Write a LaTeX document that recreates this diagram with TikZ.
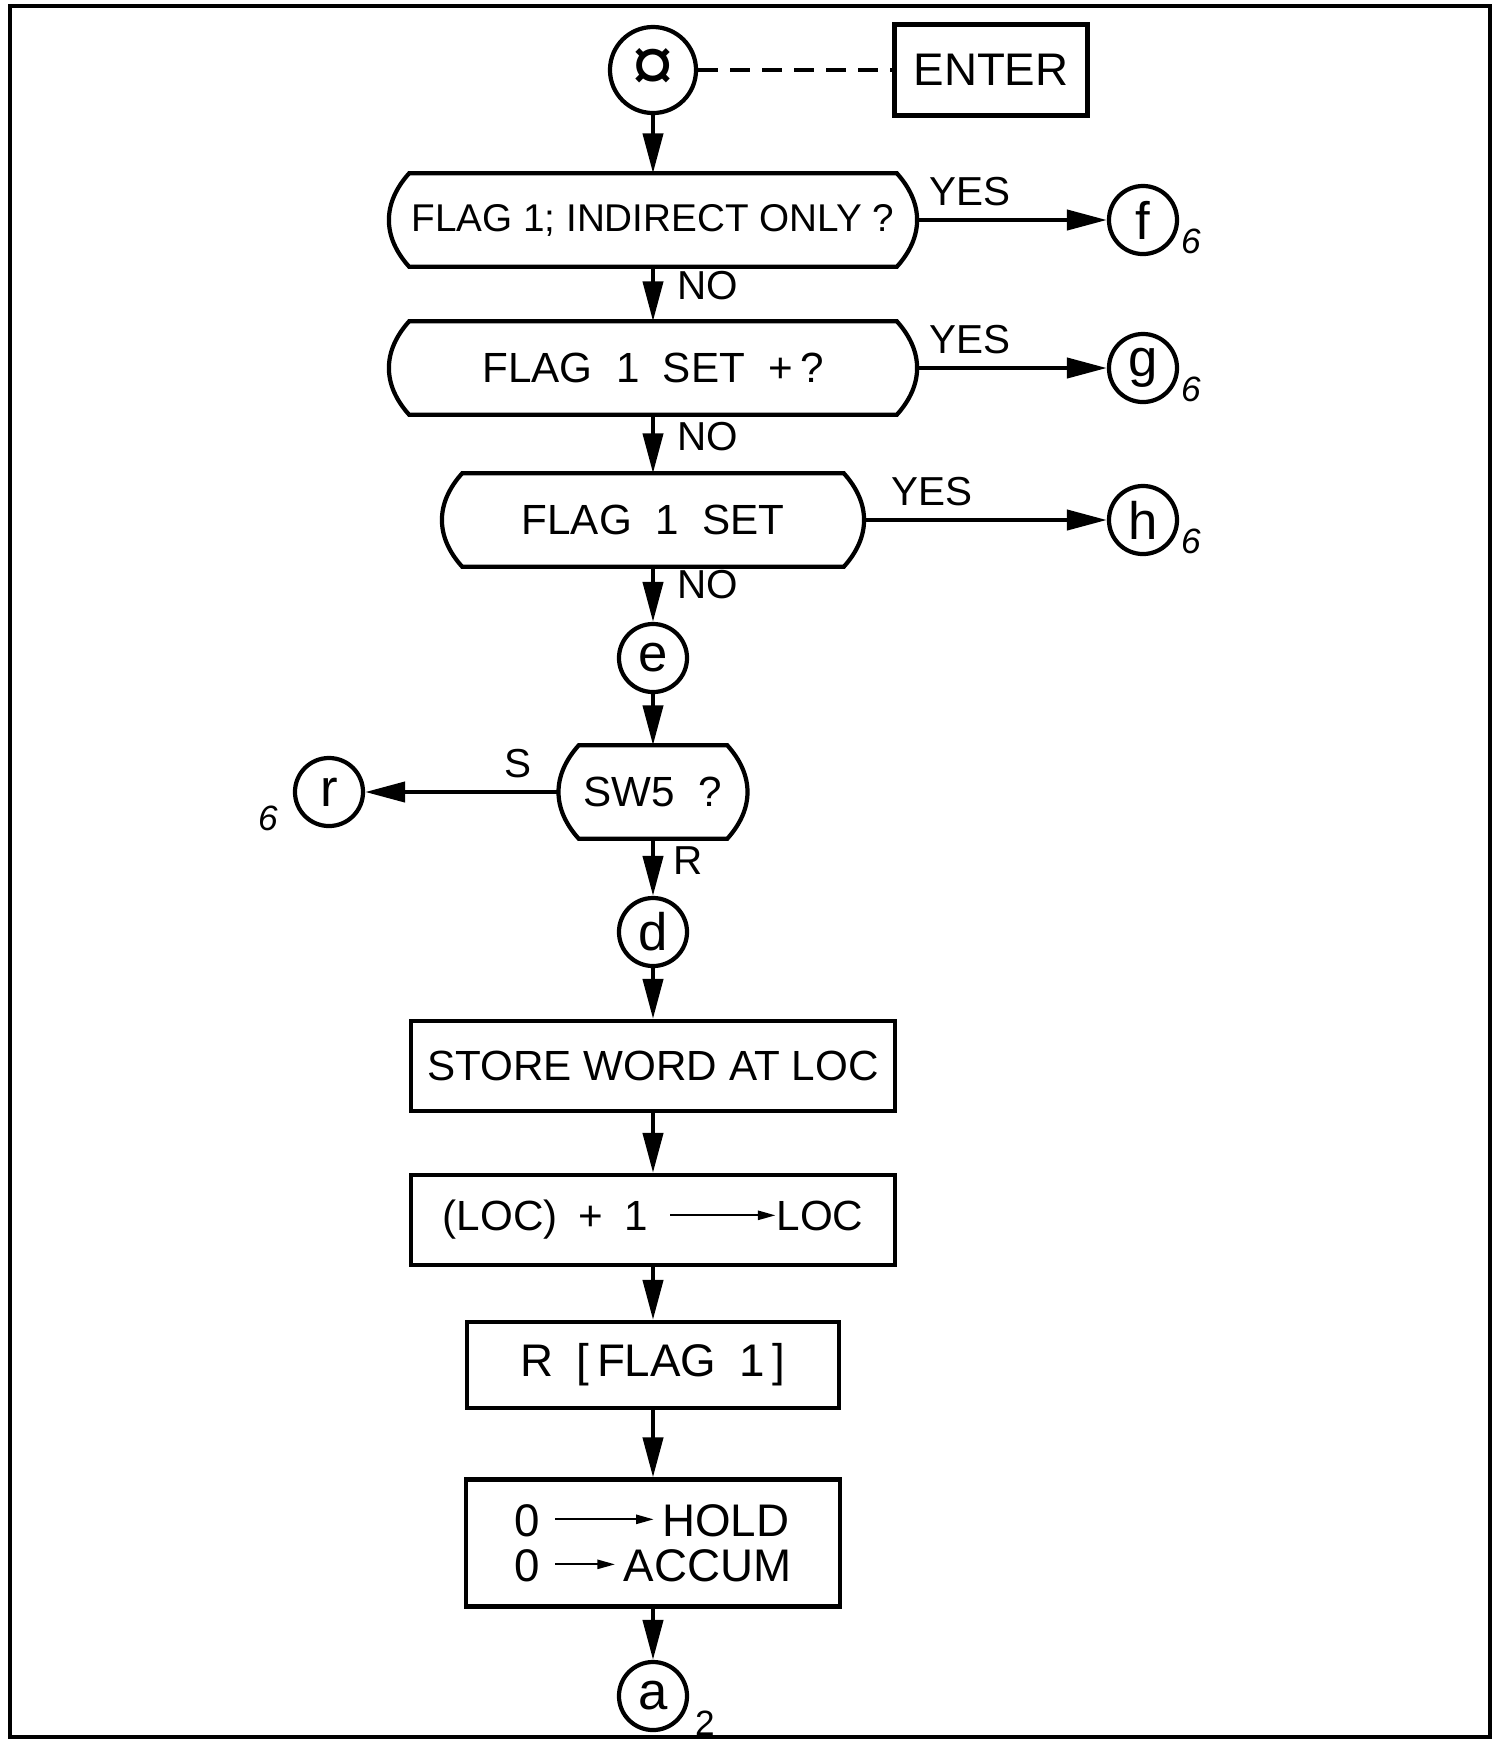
\documentclass[tikz,border=0pt]{standalone}
\usepackage{fontspec}
\setmainfont{Liberation Sans}
\usetikzlibrary{arrows.meta}

\tikzset{
  line/.style={line width=1.2pt},
  arr/.style={line width=1.2pt, -{Triangle[length=0.4cm, width=0.2cm]}},
  box/.style={draw, line width=1.2pt, rectangle, inner sep=0pt, font=\fontsize{12}{12.5}\selectfont},
  decision/.style={rectangle, inner sep=0pt, minimum height=0.92cm, font=\fontsize{12}{14}\selectfont},
  conn/.style={draw, circle, line width=1.2pt, minimum size=0.68cm, inner sep=0pt, font=\fontsize{15}{15}\selectfont},
  lbl/.style={font=\fontsize{11.5}{12}\selectfont},
  sub/.style={font=\fontsize{10}{10}\selectfont\itshape},
}

% thin arrow used inside the boxes
\newcommand{\sendarrow}[1]{\tikz[baseline=-0.7ex, x=1pt, y=1pt]\draw[line width=0.6pt, -{Triangle[length=5pt, width=2.6pt]}] (0,0) -- (#1,0);}

\begin{document}
\begin{tikzpicture}[x=0.01cm, y=-0.01cm]
  \useasboundingbox (0,0) rectangle (1493,1741);
  % Page frame
  \draw[line width=1.4pt] (10,6) rectangle (1490,1737);

  % Entry
  \node[conn, minimum size=0.86cm, font=\fontsize{22}{22}\selectfont] (start) at (653,70) {¤};
  \node[box, minimum width=1.93cm, minimum height=0.91cm, font=\fontsize{13}{14}\selectfont] (enter) at (991,70) {ENTER};
  \draw[line, dash pattern=on 0.2cm off 0.12cm] (start) -- (enter);

  % Decisions and connectors
  \node[decision, minimum width=5.26cm, font=\fontsize{11}{12}\selectfont] (d1) at (653,220) {FLAG 1; INDIRECT ONLY ?};
  \node[decision, minimum width=5.26cm] (d2) at (653,368) {FLAG\ \ 1\ \ SET\ \ +\,?};
  \node[decision, minimum width=4.2cm] (d3) at (653,520) {FLAG\ \ 1\ \ SET};
  \node[conn] (e) at (653,658) {e};
  \node[decision, minimum width=1.87cm] (sw) at (653,792) {SW5\ \ ?};
  \node[conn] (d) at (653,932) {d};

  \node[conn] (f) at (1143,220) {f};
  \node[conn] (g) at (1143,368) {g};
  \node[conn] (h) at (1143,520) {h};
  \node[conn] (r) at (329,792) {r};

  % Process boxes
  \node[box, minimum width=4.84cm, minimum height=0.9cm] (store) at (653,1066) {STORE WORD AT LOC};
  \node[box, minimum width=4.84cm, minimum height=0.9cm] (loc) at (653,1220) {(LOC)\enspace+\enspace1\enspace\sendarrow{30}LOC};
  \node[box, minimum width=3.72cm, minimum height=0.86cm, font=\fontsize{13}{14}\selectfont] (flag) at (653,1365) {R\enspace[\,FLAG\enspace1\,]};
  \node[box, minimum width=3.74cm, minimum height=1.27cm, align=left, font=\fontsize{13}{12.8}\selectfont] (clear) at (653,1543)
    {0\hspace{4pt}\sendarrow{28}\,HOLD\\0\hspace{4pt}\sendarrow{17}\,ACCUM};
  \node[conn] (a) at (653,1696) {a};

  % Decision outlines
  \foreach \n in {d1,d2,d3,sw}
    \draw[line] ([shift={(20,0)}]\n.north west) -- ([shift={(-20,0)}]\n.north east)
      .. controls ([shift={(7,30)}]\n.north east) and ([shift={(7,-30)}]\n.south east) .. ([shift={(-20,0)}]\n.south east)
      -- ([shift={(20,0)}]\n.south west)
      .. controls ([shift={(-7,-30)}]\n.south west) and ([shift={(-7,30)}]\n.north west) .. cycle;

  % Main flow
  \draw[arr] (start) -- (d1);
  \draw[arr] (d1) -- node[lbl, right=3pt, pos=0.35] (no1) {NO} (d2);
  \draw[arr] (d2) -- node[lbl, right=3pt, pos=0.37] (no2) {NO} (d3);
  \draw[arr] (d3) -- node[lbl, right=3pt, pos=0.33] (no3) {NO} (e);
  \draw[arr] (e) -- (sw);
  \draw[arr] (sw) -- node[lbl, right=2pt, pos=0.38] (rlbl) {R} (d);
  \draw[arr] (sw) -- node[lbl, above, pos=0.21] (slbl) {S} (r);
  \draw[arr] (d) -- (store);
  \draw[arr] (store) -- (loc);
  \draw[arr] (loc) -- (flag);
  \draw[arr] (flag) -- (clear);
  \draw[arr] (clear) -- (a);

  % YES branches
  \foreach \p/\q in {d1/f, d2/g, d3/h}
    \draw[arr] (\p) -- node[lbl, above, pos=0.28] (yes-\p) {YES} (\q);

  % Page numbers
  \foreach \c in {f,g,h}
    \node[sub] (\c-six) at ([shift={(48,21)}]\c) {6};
  \node[sub] (r-six) at ([shift={(-61,26)}]r) {6};
  \node[sub] (a-two) at ([shift={(52,27)}]a) {\upshape 2};
\end{tikzpicture}
\end{document}
